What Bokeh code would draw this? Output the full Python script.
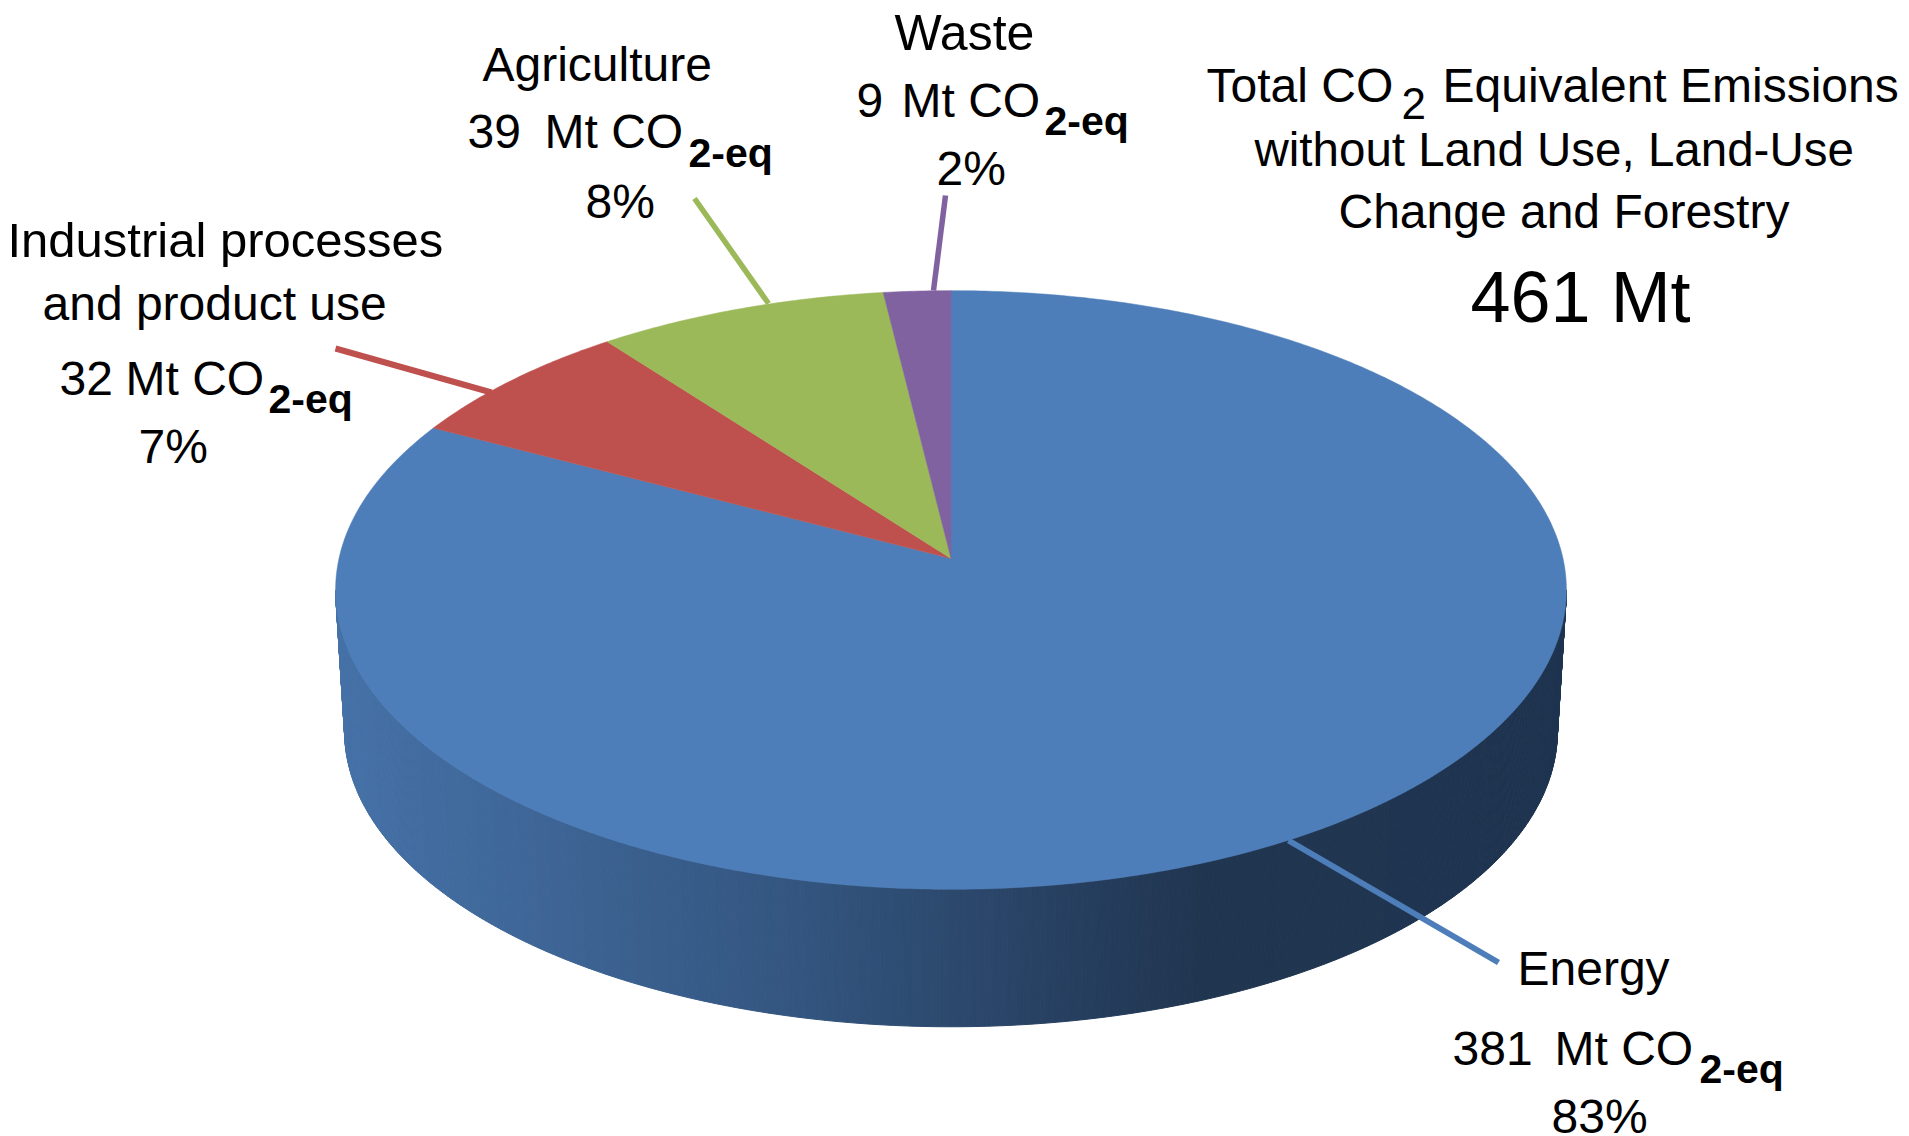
import numpy as np
from bokeh.embed import file_html
from bokeh.models import ColumnDataSource, Range1d
from bokeh.plotting import figure
from bokeh.resources import INLINE
from bokeh.core.properties import value

# Emissions by sector, in Mt CO2-eq, clockwise from twelve o'clock
categories = ["Energy", "Industrial processes and product use", "Agriculture", "Waste"]
emissions = [381, 32, 39, 9]
shares = ["83%", "7%", "8%", "2%"]
total_label = "461 Mt"
top_colors = ["#4e7eb9", "#be504d", "#9bb959", "#8062a0"]

title_lines = ["without Land Use, Land-Use", "Change and Forestry"]

W, H = 1909, 1136
FONT = "Liberation Sans"
BODY, SUB_BOLD, SUB_PLAIN, BIG = 48, 41, 44, 72

# Perspective disc: a far/near foreshortening constant shared by both rims
K = 0.105
CX = 950.5


def project(theta, apex_y, rx, ry, cx=CX):
    u, v = np.sin(theta), np.cos(theta)
    w = 1 + K * v
    return cx + rx * u / w, apex_y - ry * v / w


TOP = dict(apex_y=558, rx=612, ry=296)
BOTTOM = dict(apex_y=700, rx=603, ry=292)

# Rim wall: thin quads carrying a left-to-right shading ramp
ramp_x = [335, 800, 1000, 1200, 1570]
ramp_rgb = np.array([[70, 114, 168], [51, 85, 127], [42, 69, 104], [32, 53, 80], [31, 52, 80]])

t0 = np.pi / 2 + np.arcsin(K)
t1 = 3 * np.pi / 2 - np.arcsin(K)
edges = np.linspace(t0, t1, 421)
wall_xs, wall_ys, wall_colors = [], [], []
for a, b in zip(edges[:-1], edges[1:]):
    xa, ya = project(a, **TOP)
    xb, yb = project(b, **TOP)
    xc, yc = project(b, **BOTTOM)
    xd, yd = project(a, **BOTTOM)
    wall_xs.append([xa, xb, xc, xd])
    wall_ys.append([ya, yb, yc, yd])
    mid = (xa + xb + xc + xd) / 4
    rgb = [int(round(np.interp(mid, ramp_x, ramp_rgb[:, i]))) for i in range(3)]
    wall_colors.append("#%02x%02x%02x" % tuple(rgb))

# Top face slices, sized directly from the emissions
fractions = np.cumsum([0] + emissions) / sum(emissions)
slice_xs, slice_ys = [], []
for start, stop in zip(fractions[:-1], fractions[1:]):
    th = np.linspace(start, stop, max(12, int((stop - start) * 720))) * 2 * np.pi
    x, y = project(th, **TOP)
    slice_xs.append([CX] + x.tolist())
    slice_ys.append([TOP["apex_y"]] + y.tolist())

p = figure(width=W, height=H, output_backend="svg", toolbar_location=None,
           x_range=Range1d(0, W), y_range=Range1d(H, 0),
           min_border=0, outline_line_color=None)
p.xaxis.visible = False
p.yaxis.visible = False
p.xgrid.visible = False
p.ygrid.visible = False

p.patches(xs="xs", ys="ys", fill_color="c", line_color="c", line_width=1,
          source=ColumnDataSource(dict(xs=wall_xs, ys=wall_ys, c=wall_colors)))
p.patches(xs="xs", ys="ys", fill_color="c", line_color="c", line_width=0.5,
          source=ColumnDataSource(dict(xs=slice_xs, ys=slice_ys, c=top_colors)))

# Leader lines from each slice to its label
leaders = [
    ([1288, 1498], [840, 962], top_colors[0], 6),
    ([335, 491], [348, 392], top_colors[1], 6),
    ([694, 768], [198, 303], top_colors[2], 5.5),
    ([945, 933], [195, 290], top_colors[3], 5.5),
]
for lx, ly, color, lw in leaders:
    p.line(lx, ly, line_color=color, line_width=lw)


def put(x, y, text, size=BODY, style="normal"):
    # y is the baseline; the renderer's baseline sits lower by about 0.36 em
    p.text([x], [y - 0.36 * size], text=[text], text_font=value(FONT),
           text_font_size=value(f"{size}px"),
           text_font_style=style, text_color="#000000",
           text_align="left", text_baseline="alphabetic")


def amount(i, num_x, unit_x, y, sub_x, sub_y):
    put(num_x, y, str(emissions[i]))
    put(unit_x, y, "Mt CO")
    put(sub_x, sub_y, "2-eq", SUB_BOLD, "bold")


# Energy
put(1517, 985, categories[0])
amount(0, 1452, 1554, 1065, 1699, 1083)
put(1551, 1133, shares[0])

# Industrial processes and product use, set on two lines
put(7, 257, "Industrial processes", 49)
put(42, 320, "and product use")
amount(1, 59, 125, 395, 268, 413)
put(138, 463, shares[1])

# Agriculture
put(482, 81, categories[2])
amount(2, 467, 544, 148, 688, 167)
put(585, 218, shares[2])

# Waste
put(894, 50, categories[3], 50)
amount(3, 856, 901, 117, 1044, 135)
put(936, 185, shares[3])

# Total block, upper right
put(1206, 102, "Total CO")
put(1401, 119, "2", SUB_PLAIN)
put(1442, 102, "Equivalent Emissions")
put(1254, 166, title_lines[0], 47.5)
put(1338, 228, title_lines[1])
put(1470, 322, total_label, BIG)

open("out.html", "w").write(file_html(p, INLINE))
